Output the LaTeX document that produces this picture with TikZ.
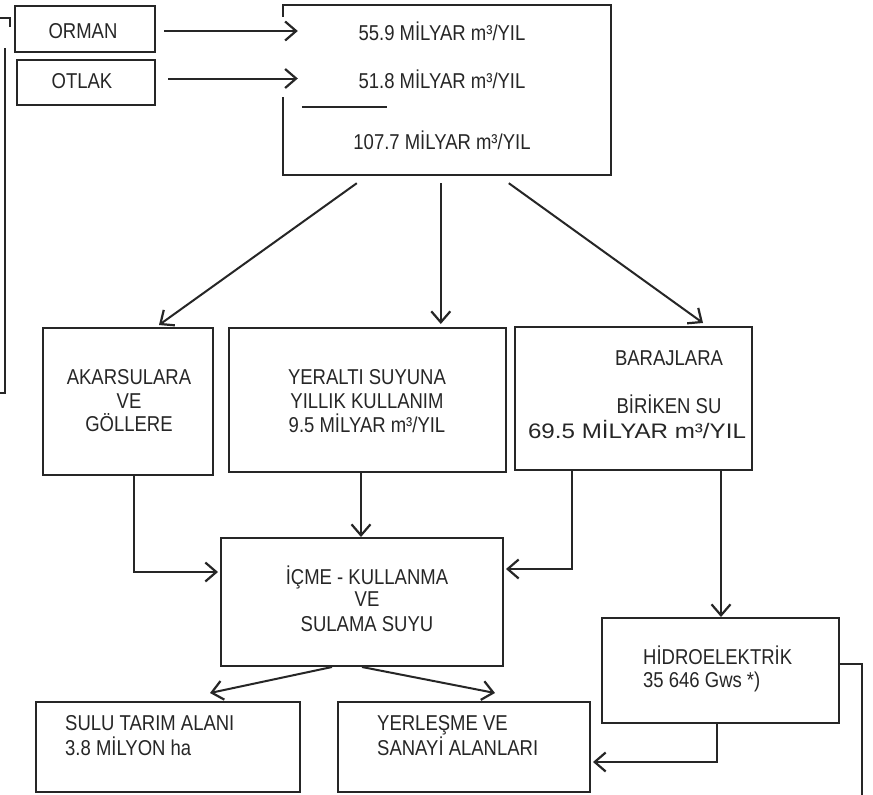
\documentclass[tikz,border=0pt]{standalone}
\usepackage{fontspec}
\setmainfont{Liberation Sans}[FakeStretch=0.86]
\newfontfamily\widefont{Liberation Sans}
\usetikzlibrary{arrows.meta,calc}
\definecolor{ink}{HTML}{262626}
\begin{document}
\begin{tikzpicture}[x=1pt,y=-1pt,
  box/.style={draw=ink,line width=2pt,inner sep=0pt},
  lbl/.style={text=ink,inner sep=0pt,font=\fontsize{21.5}{25}\selectfont,text height=15.4pt,text depth=0pt},
  lline/.style={draw=ink,line width=2pt},
  arr/.style={draw=ink,line width=2pt,-{Straight Barb[length=11pt,width=19pt,line width=2.2pt]}}
]
\fill[white] (0,0) rectangle (873,795);
\useasboundingbox (0,0) rectangle (873,795);

% boxes
\node[box,minimum width=140pt,minimum height=46pt] (orman) at (85,29) {};
\node[box,minimum width=138pt,minimum height=45pt] (otlak) at (86,82.5) {};
\node[minimum width=328pt,minimum height=170pt,inner sep=0pt] (top) at (447,90) {};
\node[box,minimum width=170pt,minimum height=147pt] (ak) at (128,401.5) {};
\node[box,minimum width=277pt,minimum height=144pt] (yer) at (367.5,400) {};
\node[box,minimum width=237pt,minimum height=143pt] (bar) at (633.5,398.5) {};
\node[box,minimum width=282pt,minimum height=128pt] (icme) at (362,602) {};
\node[box,minimum width=237pt,minimum height=105pt] (hidro) at (720.5,670.5) {};
\node[box,minimum width=264pt,minimum height=90pt] (sulu) at (168,747) {};
\node[box,minimum width=252pt,minimum height=90pt] (yerl) at (464,747) {};

% top box outline with gap on the left
\draw[lline] ($(top.north west)+(0,12)$) -- (top.north west) -- (top.north east) -- (top.south east) -- (top.south west) -- ($(top.north west)+(0,92)$);
\draw[lline] ($(top.north west)+(19,102)$) -- ($(top.north west)+(104,102)$);

% texts
\node[lbl] (tOrman) at (83,31) {ORMAN};
\node[lbl] (tOtlak) at (82,81) {OTLAK};
\node[lbl] (t1) at (442,33) {55.9 MİLYAR m³/YIL};
\node[lbl] (t2) at (442,81) {51.8 MİLYAR m³/YIL};
\node[lbl] (t3) at (442,142) {107.7 MİLYAR m³/YIL};
\node[lbl] (ak1) at (129,377) {AKARSULARA};
\node[lbl] (ak2) at (129,401) {VE};
\node[lbl] (ak3) at (129,424) {GÖLLERE};
\node[lbl] (y1) at (367,377) {YERALTI SUYUNA};
\node[lbl] (y2) at (367,401) {YILLIK KULLANIM};
\node[lbl] (y3) at (367,425) {9.5 MİLYAR m³/YIL};
\node[lbl] (b1) at (669,358) {BARAJLARA};
\node[lbl] (b2) at (669,406) {BİRİKEN SU};
\node[lbl,font=\widefont\fontsize{21}{24}\selectfont,text height=15pt] (b3) at (637,431) {\scalebox{1.15}[1]{69.5 MİLYAR m³/YIL}};
\node[lbl] (i1) at (367,577) {İÇME - KULLANMA};
\node[lbl] (i2) at (367,599) {VE};
\node[lbl] (i3) at (367,624) {SULAMA SUYU};
\node[lbl,anchor=west] (h1) at (643,657) {HİDROELEKTRİK};
\node[lbl,anchor=west] (h2) at (643,680) {35 646 Gws *)};
\node[lbl,anchor=west] (s1) at (65,723) {SULU TARIM ALANI};
\node[lbl,anchor=west] (s2) at (65,748) {3.8 MİLYON ha};
\node[lbl,anchor=west] (e1) at (377,723) {YERLEŞME VE};
\node[lbl,anchor=west] (e2) at (377,748) {SANAYİ ALANLARI};

% connectors
\draw[arr] ($(orman.east)+(8,2)$) -- ($(orman.east -| top.west)+(15,2)$);
\draw[arr] ($(otlak.east)+(12,-4)$) -- ($(otlak.east -| top.west)+(15,-4)$);
\draw[arr] ($(top.south west)+(74,8)$) -- ($(ak.north west)+(117,-2)$);
\draw[arr] ($(top.south west)+(158,8)$) -- ($(top.south west |- yer.north)+(158,-3)$);
\draw[arr] ($(top.south west)+(226,8)$) -- ($(bar.north west)+(189,-3)$);
\draw[arr] ($(ak.south west)+(92,0)$) |- ($(icme.north west)+(-2,35)$);
\draw[arr] ($(yer.south west)+(133,0)$) -- ($(icme.north west)+(141,0)$);
\draw[arr] ($(bar.south west)+(58,0)$) |- ($(icme.north east)+(2,32)$);
\draw[arr] ($(bar.south west)+(207,0)$) -- ($(hidro.north west)+(120,0)$);
\draw[arr] ($(hidro.south west)+(116,0)$) |- ($(yerl.north east)+(2,61)$);
\coordinate (pageR) at (862,797);
\draw[lline] ($(hidro.north east)+(0,47)$) -| (pageR);
\draw[arr] ($(icme.south west)+(112,0)$) -- ($(sulu.north west)+(175,-8)$);
\draw[arr] ($(icme.south west)+(142,0)$) -- ($(yerl.north west)+(158,-8)$);

% page frame lines at the left edge
\draw[lline] (0,18) -- (10,18) -- (10,27);
\draw[lline] (5,48) -- (5,393) -- (0,393);
\end{tikzpicture}
\end{document}
